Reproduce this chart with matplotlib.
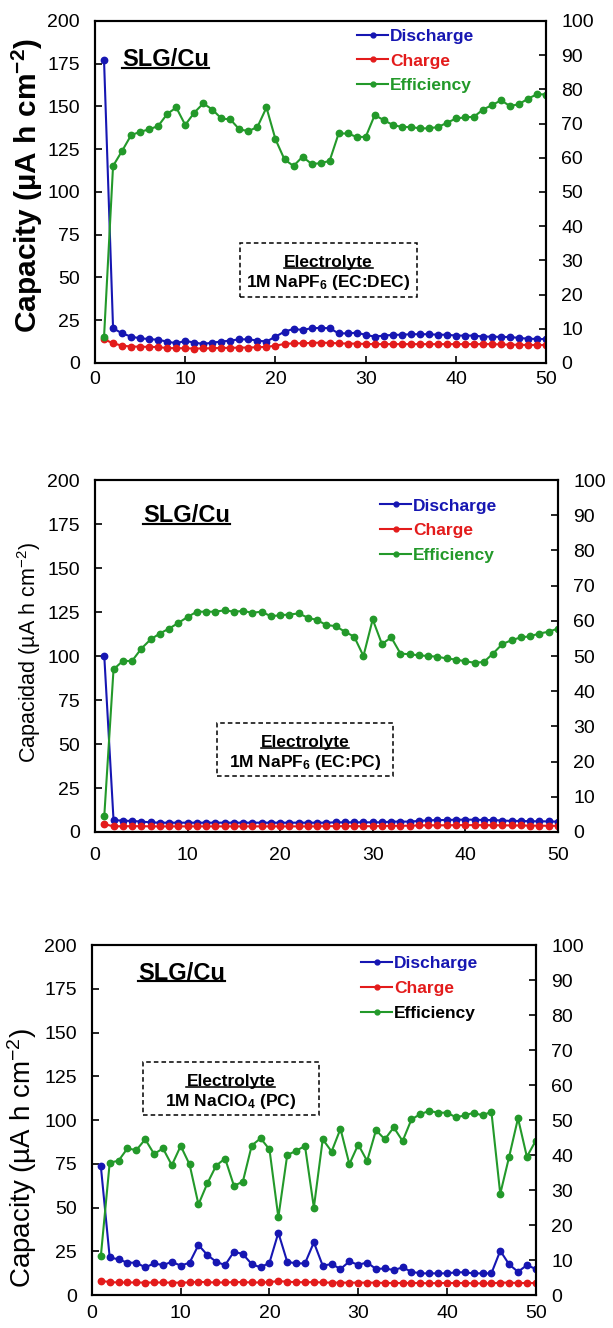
import numpy as np
import matplotlib
matplotlib.use("Agg")
import matplotlib.pyplot as plt
from matplotlib.lines import Line2D
from matplotlib.patches import Rectangle

plt.rcParams["font.family"] = ["Liberation Sans", "DejaVu Sans"]
plt.rcParams["mathtext.fontset"] = "custom"
plt.rcParams["mathtext.rm"] = "Liberation Sans"
plt.rcParams["mathtext.bf"] = "Liberation Sans:bold"
plt.rcParams["mathtext.it"] = "Liberation Sans:italic"

cycles = np.arange(1, 51)

# --- panel 1: 1M NaPF6 (EC:DEC)
p1_discharge = [177, 20.3, 17.3, 15.4, 14.4, 14.0, 13.5, 12.5, 11.5, 12.9,
                11.9, 11.1, 11.9, 12.5, 13.1, 13.8, 13.8, 13.1, 12.5, 15.4,
                18.3, 19.9, 19.3, 20.3, 20.5, 20.3, 17.3, 17.3, 17.7, 16.4,
                15.4, 16.0, 16.4, 16.5, 16.8, 16.8, 16.8, 16.5, 16.5, 16.0,
                16.0, 16.0, 15.4, 15.4, 15.2, 15.2, 14.6, 14.2, 14.0, 14.0]
p1_charge = [13.8, 11.5, 10.1, 9.6, 9.5, 9.4, 9.3, 8.7, 8.6, 8.6,
             8.4, 8.5, 8.6, 8.8, 8.8, 9.0, 9.0, 9.2, 9.4, 10.1,
             11.1, 11.5, 11.5, 11.7, 11.9, 11.7, 11.5, 11.3, 11.3, 11.1,
             11.0, 11.0, 11.0, 11.0, 11.0, 11.0, 11.0, 11.0, 11.0, 11.0,
             11.0, 11.0, 11.0, 11.0, 10.8, 10.7, 10.6, 10.5, 10.5, 10.5]
p1_efficiency = [7.6, 57.6, 62.0, 66.6, 67.6, 68.3, 69.3, 72.8, 74.7, 69.6,
                 73.2, 75.9, 74.1, 71.5, 71.2, 68.3, 67.8, 69.0, 74.7, 65.4,
                 59.5, 57.6, 60.3, 58.2, 58.4, 59.1, 67.1, 67.1, 66.1, 66.1,
                 72.5, 71.0, 69.6, 69.0, 69.0, 68.6, 68.6, 69.0, 70.2, 71.5,
                 71.8, 72.0, 74.1, 75.4, 76.8, 75.1, 75.7, 77.3, 78.6, 78.5]

# --- panel 2: 1M NaPF6 (EC:PC)
p2_discharge = [100, 6.8, 6.4, 6.3, 5.9, 5.5, 5.3, 5.3, 5.3, 5.3,
                5.3, 5.3, 5.3, 5.3, 5.3, 5.3, 5.3, 5.3, 5.3, 5.3,
                5.3, 5.3, 5.3, 5.3, 5.3, 5.5, 5.5, 5.5, 5.5, 5.5,
                5.5, 5.9, 5.9, 5.9, 6.3, 6.6, 6.8, 6.8, 7.0, 7.0,
                7.0, 6.8, 6.8, 6.5, 6.3, 6.3, 6.1, 6.1, 6.0, 5.9]
p2_charge = [4.5, 3.2, 3.3, 3.3, 3.3, 3.2, 3.2, 3.2, 3.2, 3.2,
             3.2, 3.2, 3.2, 3.2, 3.2, 3.2, 3.2, 3.2, 3.2, 3.2,
             3.2, 3.2, 3.2, 3.2, 3.3, 3.3, 3.3, 3.3, 3.3, 3.3,
             3.4, 3.5, 3.5, 3.6, 3.7, 3.8, 3.8, 3.8, 3.9, 3.9,
             3.9, 3.9, 3.8, 3.8, 3.7, 3.7, 3.6, 3.6, 3.5, 3.5]
p2_efficiency = [4.5, 46.2, 48.6, 48.6, 52.1, 54.7, 56.4, 57.8, 59.4, 61.1,
                 62.6, 62.6, 62.6, 63.0, 62.6, 62.8, 62.3, 62.6, 61.3, 61.6,
                 61.8, 62.1, 60.9, 60.2, 58.8, 58.5, 56.9, 55.5, 50.0, 60.4,
                 53.4, 55.3, 50.7, 50.5, 50.2, 50.0, 49.8, 49.3, 49.0, 48.5,
                 48.1, 48.3, 50.7, 53.4, 54.5, 55.3, 55.6, 56.4, 56.9, 57.8]

# --- panel 3: 1M NaClO4 (PC)
p3_discharge = [73.7, 21.5, 20.4, 18.5, 18.5, 15.8, 18.1, 17.1, 19.0, 16.8,
                18.5, 28.6, 22.9, 19.0, 17.1, 24.8, 23.4, 17.7, 15.8, 18.5,
                35.6, 19.0, 18.1, 18.1, 30.1, 16.8, 17.7, 14.9, 19.2, 17.3,
                18.6, 14.9, 15.2, 14.3, 15.8, 13.3, 12.4, 12.4, 12.4, 12.4,
                13.0, 13.0, 12.4, 12.4, 12.4, 25.3, 17.5, 13.3, 17.1, 14.9]
p3_charge = [8.2, 7.4, 7.2, 7.2, 7.2, 7.1, 7.2, 7.2, 7.1, 7.1,
             7.2, 7.6, 7.3, 7.2, 7.2, 7.4, 7.4, 7.2, 7.2, 7.4,
             8.0, 7.6, 7.4, 7.3, 7.4, 7.2, 7.1, 7.1, 7.1, 7.1,
             7.1, 7.1, 6.9, 6.9, 6.9, 6.9, 6.9, 6.7, 6.9, 6.9,
             6.9, 6.9, 6.7, 6.7, 6.7, 7.1, 7.1, 6.9, 6.9, 6.9]
p3_efficiency = [11.1, 37.8, 38.4, 41.9, 41.4, 44.5, 40.3, 41.9, 37.1, 42.6,
                 37.3, 25.9, 31.9, 37.0, 39.0, 31.2, 32.4, 42.7, 44.8, 41.6,
                 22.2, 40.0, 41.2, 42.6, 25.0, 44.5, 41.0, 47.5, 37.4, 43.0,
                 38.3, 47.1, 44.5, 47.9, 44.0, 50.2, 51.7, 52.6, 52.1, 52.1,
                 50.8, 51.3, 52.1, 51.3, 52.4, 28.9, 39.5, 50.5, 39.5, 44.1]

legend_labels = ["Discharge", "Charge", "Efficiency"]

BLUE = "#1616b2"
RED = "#e31b1b"
GREEN = "#23992a"

underline_these = []


def draw_panel(fig, rect, discharge, charge, eff, ylabel, label_bold, label_size,
               label_xy, electrolyte, box, slg_xy, leg_xy, leg_colors, xpad):
    ax = fig.add_axes(rect)
    ax2 = ax.twinx()

    ax.plot(cycles, discharge, color=BLUE, marker="o", ms=4.6, lw=1.5, zorder=3)
    ax.plot(cycles, charge, color=RED, marker="o", ms=4.6, lw=1.5, zorder=4)
    ax2.plot(cycles, eff, color=GREEN, marker="o", ms=4.6, lw=1.5)

    ax.set_xlim(0, 50)
    ax.set_ylim(0, 200)
    ax2.set_ylim(0, 100)
    ax.set_xticks(np.arange(0, 51, 10))
    ax.set_yticks(np.arange(0, 201, 25))
    ax2.set_yticks(np.arange(0, 101, 10))

    for a in (ax, ax2):
        for s in a.spines.values():
            s.set_linewidth(1.5)
        a.tick_params(direction="in", length=5, width=1.2, labelsize=14, pad=11)
    ax.tick_params(axis="x", pad=xpad)

    ax.set_ylabel(ylabel, fontsize=label_size,
                  fontweight="bold" if label_bold else "normal")
    ax.yaxis.set_label_coords(*label_xy)

    # electrolyte box
    x0, y0, x1, y1 = box
    ax2.add_patch(Rectangle((x0, y0), x1 - x0, y1 - y0, transform=ax2.transAxes,
                            fill=False, ls=(0, (3, 2)), lw=1.1, ec="black"))
    xc = (x0 + x1) / 2
    h = y1 - y0
    t = ax2.text(xc, y1 - 0.37 * h, "Electrolyte", transform=ax2.transAxes,
                 ha="center", va="center", fontsize=12.5, fontweight="bold")
    underline_these.append(t)
    ax2.text(xc, y1 - 0.74 * h, electrolyte, transform=ax2.transAxes,
             ha="center", va="center", fontsize=12.5, fontweight="bold")

    t = ax2.text(slg_xy[0], slg_xy[1], "SLG/Cu", transform=ax2.transAxes,
                 ha="left", va="center", fontsize=17, fontweight="bold")
    underline_these.append(t)

    handles = [Line2D([], [], color=c, marker="o", ms=3.5, lw=1.5)
               for c in (BLUE, RED, GREEN)]
    ax2.legend(handles, legend_labels, loc="upper left", bbox_to_anchor=leg_xy,
               frameon=False, prop={"weight": "bold", "size": 12.5},
               labelcolor=leg_colors, handlelength=1.8, handletextpad=0.1,
               labelspacing=0.56, borderpad=0, borderaxespad=0)
    return ax


fig = plt.figure(figsize=(6.13, 13.28), dpi=100)

draw_panel(fig, [0.155, 0.7267, 0.736, 0.2575],
           p1_discharge, p1_charge, p1_efficiency,
           "Capacity (µA h cm$^{\\mathbf{-2}}$)", True, 21.5, (-0.11, 0.52),
           "1M NaPF$_\\mathbf{6}$ (EC:DEC)", (0.3215, 0.193, 0.714, 0.351),
           (0.06, 0.886), (0.581, 0.978), [BLUE, RED, GREEN], 6)

draw_panel(fig, [0.155, 0.3735, 0.755, 0.265],
           p2_discharge, p2_charge, p2_efficiency,
           "Capacidad (µA h cm$^{-2}$)", False, 15.5, (-0.113, 0.509),
           "1M NaPF$_\\mathbf{6}$ (EC:PC)", (0.2635, 0.159, 0.6436, 0.31),
           (0.104, 0.898), (0.616, 0.948), [BLUE, RED, GREEN], 11)

draw_panel(fig, [0.150, 0.0248, 0.724, 0.2636],
           p3_discharge, p3_charge, p3_efficiency,
           "Capacity (µA h cm$^{-2}$)", False, 20, (-0.12, 0.391),
           "1M NaClO$_\\mathbf{4}$ (PC)", (0.115, 0.514, 0.511, 0.666),
           (0.104, 0.92), (0.606, 0.968), [BLUE, RED, "black"], 7)

# underline the bold headings
fig.canvas.draw()
inv = fig.transFigure.inverted()
for t in underline_these:
    bb = t.get_window_extent()
    fs = t.get_fontsize() * fig.dpi / 72
    y = bb.y0 + 0.13 * fs
    (xa, ya), (xb, _) = inv.transform([(bb.x0, y), (bb.x1, y)])
    fig.add_artist(Line2D([xa, xb], [ya, ya], color="black",
                          lw=max(1.0, t.get_fontsize() / 11)))

fig.savefig("out.png", dpi=100)
